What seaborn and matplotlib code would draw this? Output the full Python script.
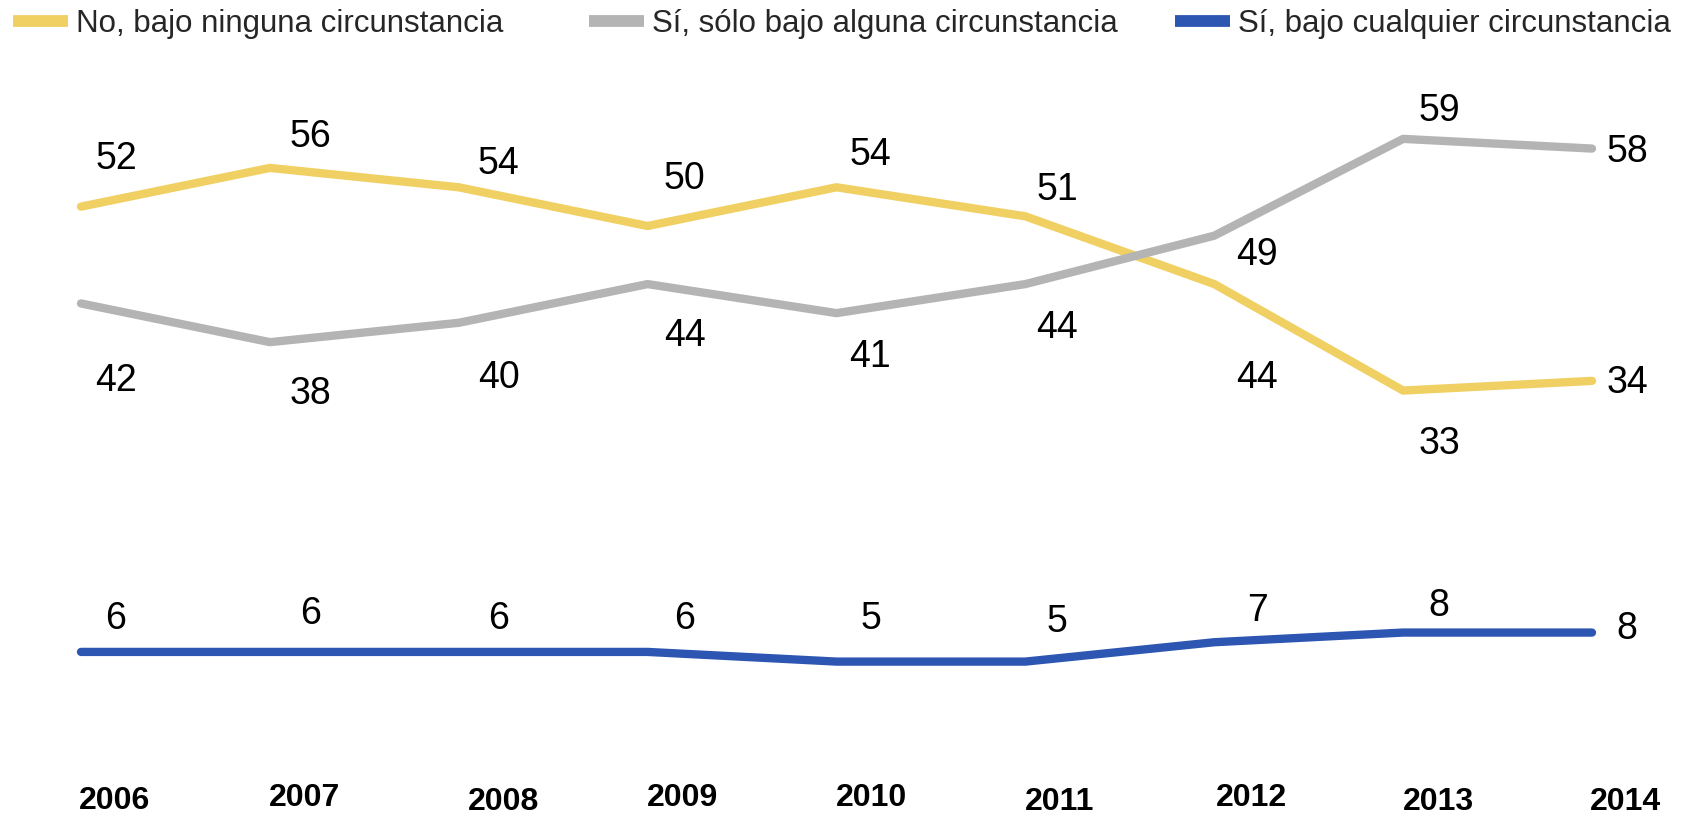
import matplotlib
matplotlib.use("Agg")
import matplotlib.pyplot as plt
from matplotlib.lines import Line2D
import seaborn as sns
import pandas as pd

# --- data -------------------------------------------------------------
years = [2006, 2007, 2008, 2009, 2010, 2011, 2012, 2013, 2014]
series_names = [
    "No, bajo ninguna circunstancia",
    "Sí, sólo bajo alguna circunstancia",
    "Sí, bajo cualquier circunstancia",
]
no_ninguna = [52, 56, 54, 50, 54, 51, 44, 33, 34]
si_alguna = [42, 38, 40, 44, 41, 44, 49, 59, 58]
si_cualquier = [6, 6, 6, 6, 5, 5, 7, 8, 8]

# --- styling ------------------------------------------------------------
colors = ["#F0D062", "#B4B4B4", "#2D56B3"]

# label offsets in pixels (x to the right, y downward) for each series
label_dx = [35, 41, 40, 37, 34, 32, 43, 36, 35]
label_dy = [
    [-48, -31, -23, -47, -32, -26, 94, 53, 2],
    [78, 52, 55, 52, 44, 44, 19, -28, 3],
    [-33, -38, -33, -33, -43, -40, -31, -27, -4],
]
year_dx = [34, 35, 45, 35, 35, 34, 37, 35, 33]
year_dy = [91, 88, 92, 88, 88, 92, 88, 92, 92]
legend_x = [13, 589, 1175]

sns.set_style("white")
plt.rcParams["font.family"] = ["Liberation Sans", "DejaVu Sans"]

values = [no_ninguna, si_alguna, si_cualquier]
df = pd.DataFrame(
    {
        "year": years * 3,
        "valor": no_ninguna + si_alguna + si_cualquier,
        "serie": [n for n in series_names for _ in years],
    }
)

W, H, DPI = 1695, 815, 100
fig = plt.figure(figsize=(W / DPI, H / DPI), dpi=DPI)
ax = fig.add_axes([81 / W, 105 / H, (1592 - 81) / W, 677.6 / H])

sns.lineplot(
    data=df, x="year", y="valor", hue="serie", hue_order=series_names,
    palette=colors, linewidth=6, solid_capstyle="round", legend=False,
    sort=False, ax=ax,
)
for ln in ax.get_lines():
    ln.set_clip_on(False)

ax.set_xlim(years[0], years[-1])
ax.set_ylim(0, 70)
ax.set_xlabel("")
ax.set_ylabel("")
ax.set_xticks([])
ax.set_yticks([])
for sp in ax.spines.values():
    sp.set_visible(False)

# data labels
for vals, dys in zip(values, label_dy):
    for yr, v, dx, dy in zip(years, vals, label_dx, dys):
        ax.annotate(
            f"{v}", xy=(yr, v), xytext=(dx, -dy), textcoords="offset pixels",
            ha="center", va="center", fontsize=27, color="black",
            annotation_clip=False,
        )

# year labels along the bottom
for yr, dx, dy in zip(years, year_dx, year_dy):
    ax.annotate(
        str(yr), xy=(yr, 0), xycoords=("data", "axes fraction"),
        xytext=(dx, -dy), textcoords="offset pixels",
        ha="center", va="center", fontsize=23, fontweight="bold",
        color="black", annotation_clip=False,
    )

# one legend entry per series, laid out across the top
for name, c, lx in zip(series_names, colors, legend_x):
    handle = Line2D([0], [0], color=c, linewidth=8.5, solid_capstyle="butt")
    fig.legend(
        [handle], [name], loc="center left",
        bbox_to_anchor=(lx / W, 1 - 24 / H), frameon=False,
        fontsize=22.5, handlelength=1.76, handletextpad=0.25,
        borderpad=0, borderaxespad=0,
    )

fig.savefig("out.png", dpi=DPI, facecolor="white")
